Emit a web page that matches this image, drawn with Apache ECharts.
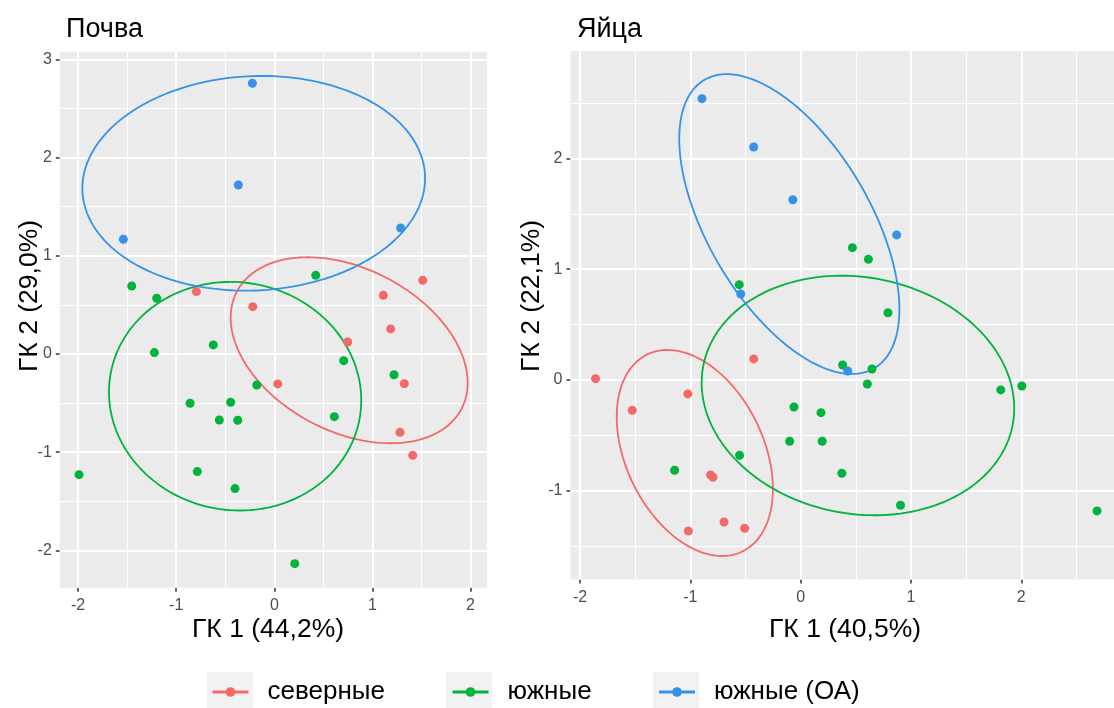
<!DOCTYPE html>
<html>
<head>
<meta charset="utf-8">
<title>ГК</title>
<script src="https://cdn.jsdelivr.net/npm/echarts@6/dist/echarts.min.js"></script>
<style>
  html, body { margin: 0; padding: 0; background: #fff; }
  #chart { width: 1114px; height: 708px; }
</style>
</head>
<body>
<div id="chart"></div>
<script>
// Groups and colours
const groups = ['северные', 'южные', 'южные (ОА)'];
const groupColors = ['#F26A68', '#00B33C', '#3592E8'];

// Почва: principal-component scores [ГК 1, ГК 2]
const soilNorth = [
  [-0.795, 0.635], [-0.220, 0.482], [1.111, 0.597], [1.513, 0.750], [1.186, 0.255],
  [0.748, 0.122], [0.035, -0.305], [1.325, -0.302], [1.281, -0.798], [1.411, -1.032]
];
const soilSouth = [
  [-1.454, 0.692], [-1.199, 0.567], [0.422, 0.801], [-1.223, 0.014], [-0.622, 0.092],
  [0.707, -0.068], [-0.179, -0.316], [1.220, -0.211], [-0.859, -0.502], [-0.445, -0.492],
  [-0.561, -0.672], [-0.373, -0.675], [0.612, -0.638], [-1.991, -1.229], [-0.785, -1.198],
  [-0.401, -1.371], [0.208, -2.135]
];
const soilSouthOA = [
  [-0.224, 2.757], [-0.367, 1.721], [-1.539, 1.168], [1.288, 1.283]
];

// Яйца: principal-component scores [ГК 1, ГК 2]
const eggNorth = [
  [-1.860, 0.012], [-0.426, 0.190], [-1.023, -0.126], [-1.527, -0.274], [-0.817, -0.857],
  [-0.795, -0.878], [-0.695, -1.282], [-1.019, -1.363], [-0.508, -1.339]
];
const eggSouth = [
  [0.469, 1.194], [0.614, 1.089], [-0.557, 0.860], [0.791, 0.607], [0.380, 0.135],
  [0.646, 0.099], [0.604, -0.036], [1.814, -0.090], [2.005, -0.054], [-0.061, -0.244],
  [0.184, -0.295], [-0.100, -0.553], [0.195, -0.553], [-0.554, -0.680], [-1.143, -0.815],
  [0.373, -0.842], [0.905, -1.131], [2.687, -1.182]
];
const eggSouthOA = [
  [-0.895, 2.539], [-0.426, 2.103], [-0.071, 1.627], [0.870, 1.309], [-0.543, 0.776],
  [0.426, 0.081]
];

// Confidence ellipses per group: [centre x, centre y, half-width x, half-height y, correlation]
const soilEllipses = [
  [0.763, 0.038, 1.208, 0.947, -0.35],
  [-0.400, -0.430, 1.286, 1.164, -0.036],
  [-0.210, 1.738, 1.747, 1.093, 0.047]
];
const eggEllipses = [
  [-0.960, -0.659, 0.708, 0.930, -0.35],
  [0.519, -0.140, 1.417, 1.081, -0.106],
  [-0.103, 1.407, 0.998, 1.353, -0.568]
];

// Axis ticks
const soilXTicks = [-2, -1, 0, 1, 2];
const soilYTicks = [-2, -1, 0, 1, 2, 3];
const eggXTicks = [-2, -1, 0, 1, 2];
const eggYTicks = [-1, 0, 1, 2];

// Titles
const panelTitles = ['Почва', 'Яйца'];
const xTitles = ['ГК 1 (44,2%)', 'ГК 1 (40,5%)'];
const yTitles = ['ГК 2 (29,0%)', 'ГК 2 (22,1%)'];

const FONT = '"Liberation Sans", Arial, sans-serif';

function ellipsePath(e, n) {
  const [cx, cy, sx, sy, r] = e;
  const k = Math.sqrt(1 - r * r);
  const pts = [];
  for (let i = 0; i <= n; i++) {
    const t = (2 * Math.PI * i) / n;
    pts.push([cx + sx * Math.cos(t), cy + sy * (r * Math.cos(t) + k * Math.sin(t))]);
  }
  return pts;
}

// white major / minor grid lines inside a panel
function gridLines(axisIdx, xMajor, yMajor, xr, yr) {
  const lines = [];
  const add = (key, v, major) => lines.push({ [key]: v, lineStyle: { color: '#ffffff', width: major ? 2 : 1, type: 'solid', opacity: 1 } });
  const minors = (range) => {
    const out = [];
    for (let v = Math.floor(range[0]) + 0.5; v < range[1]; v += 1) if (v > range[0]) out.push(v);
    return out;
  };
  minors(xr).forEach(v => add('xAxis', v, false));
  minors(yr).forEach(v => add('yAxis', v, false));
  xMajor.forEach(v => add('xAxis', v, true));
  yMajor.forEach(v => add('yAxis', v, true));
  return {
    type: 'line', data: [], xAxisIndex: axisIdx, yAxisIndex: axisIdx, silent: true, z: 1,
    markLine: {
      silent: true, symbol: ['none', 'none'], label: { show: false }, z: 1,
      emphasis: { disabled: true }, animation: false, data: lines
    }
  };
}

const soilRange = { x: [-2.187, 2.169], y: [-2.38, 3.078] };
const eggRange = { x: [-2.087, 2.914], y: [-1.80, 2.97] };

function makeAxis(gridIndex, range, ticks, isX) {
  return {
    type: 'value', gridIndex, min: range[0], max: range[1],
    axisLine: { show: true, onZero: false, lineStyle: { color: 'rgba(0,0,0,0)', width: 0 } },
    axisTick: { show: true, customValues: ticks, length: 4, lineStyle: { color: '#333333', width: 1.5 } },
    axisLabel: { customValues: ticks, fontSize: 16, color: '#4D4D4D', fontFamily: FONT, margin: isX ? 10 : 8 },
    splitLine: { show: false }, minorSplitLine: { show: false }
  };
}

const series = [
  gridLines(0, soilXTicks, soilYTicks, soilRange.x, soilRange.y),
  gridLines(1, eggXTicks, eggYTicks, eggRange.x, eggRange.y)
];

const soilSets = [soilNorth, soilSouth, soilSouthOA];
const eggSets = [eggNorth, eggSouth, eggSouthOA];

// ellipses first so the legend uses the line-with-dot key
[[soilEllipses, 0], [eggEllipses, 1]].forEach(([ells, idx]) => {
  ells.forEach((e, g) => series.push({
    type: 'line', name: groups[g], xAxisIndex: idx, yAxisIndex: idx,
    data: ellipsePath(e, 160), showSymbol: false, symbol: 'circle', smooth: false,
    lineStyle: { color: groupColors[g], width: 1.8 }, itemStyle: { color: groupColors[g] },
    silent: true, z: 3, clip: true
  }));
});
[[soilSets, 0], [eggSets, 1]].forEach(([sets, idx]) => {
  sets.forEach((d, g) => series.push({
    type: 'scatter', name: groups[g], xAxisIndex: idx, yAxisIndex: idx,
    data: d, symbolSize: 9, itemStyle: { color: groupColors[g], opacity: 1 }, z: 4
  }));
});

const legendLeft = [211, 451, 657.5];
const keyBoxes = [207, 446, 653];

const titleStyle = { fontSize: 27, fontWeight: 'normal', color: '#000', fontFamily: FONT };

const option = {
  animation: false,
  backgroundColor: '#ffffff',
  textStyle: { fontFamily: FONT },
  title: [
    { text: panelTitles[0], left: 61, top: 11, textStyle: titleStyle },
    { text: panelTitles[1], left: 572, top: 11, textStyle: titleStyle }
  ],
  grid: [
    { left: 59.8, top: 51.7, width: 427.3, height: 536, show: true, backgroundColor: '#EBEBEB', borderWidth: 0, containLabel: false, outerBoundsMode: 'none' },
    { left: 570.5, top: 50.9, width: 551.6, height: 528.5, show: true, backgroundColor: '#EBEBEB', borderWidth: 0, containLabel: false, outerBoundsMode: 'none' }
  ],
  xAxis: [makeAxis(0, soilRange.x, soilXTicks, true), makeAxis(1, eggRange.x, eggXTicks, true)],
  yAxis: [makeAxis(0, soilRange.y, soilYTicks, false), makeAxis(1, eggRange.y, eggYTicks, false)],
  legend: groups.map((g, i) => ({
    data: [g], left: legendLeft[i], top: 679, padding: 0, orient: 'horizontal',
    itemWidth: 36, itemHeight: 12, selectedMode: false,
    lineStyle: { width: 3 },
    textStyle: { fontSize: 26, color: '#000', fontFamily: FONT, padding: [0, 0, 0, 14] }
  })),
  graphic: [
    ...keyBoxes.map(x => ({ type: 'rect', z: -1, shape: { x, y: 672, width: 46, height: 40 }, style: { fill: '#F2F2F2' }, silent: true })),
    { type: 'text', x: 268, y: 630, style: { text: xTitles[0], font: '26.5px ' + FONT, fill: '#000', align: 'center', verticalAlign: 'middle' } },
    { type: 'text', x: 845, y: 630, style: { text: xTitles[1], font: '26.5px ' + FONT, fill: '#000', align: 'center', verticalAlign: 'middle' } },
    { type: 'text', x: 30, y: 296, rotation: Math.PI / 2, style: { text: yTitles[0], font: '26.5px ' + FONT, fill: '#000', align: 'center', verticalAlign: 'middle' } },
    { type: 'text', x: 532, y: 296, rotation: Math.PI / 2, style: { text: yTitles[1], font: '26.5px ' + FONT, fill: '#000', align: 'center', verticalAlign: 'middle' } }
  ],
  series
};

const chart = echarts.init(document.getElementById('chart'), null, { renderer: 'canvas' });
chart.setOption(option);
</script>
</body>
</html>
